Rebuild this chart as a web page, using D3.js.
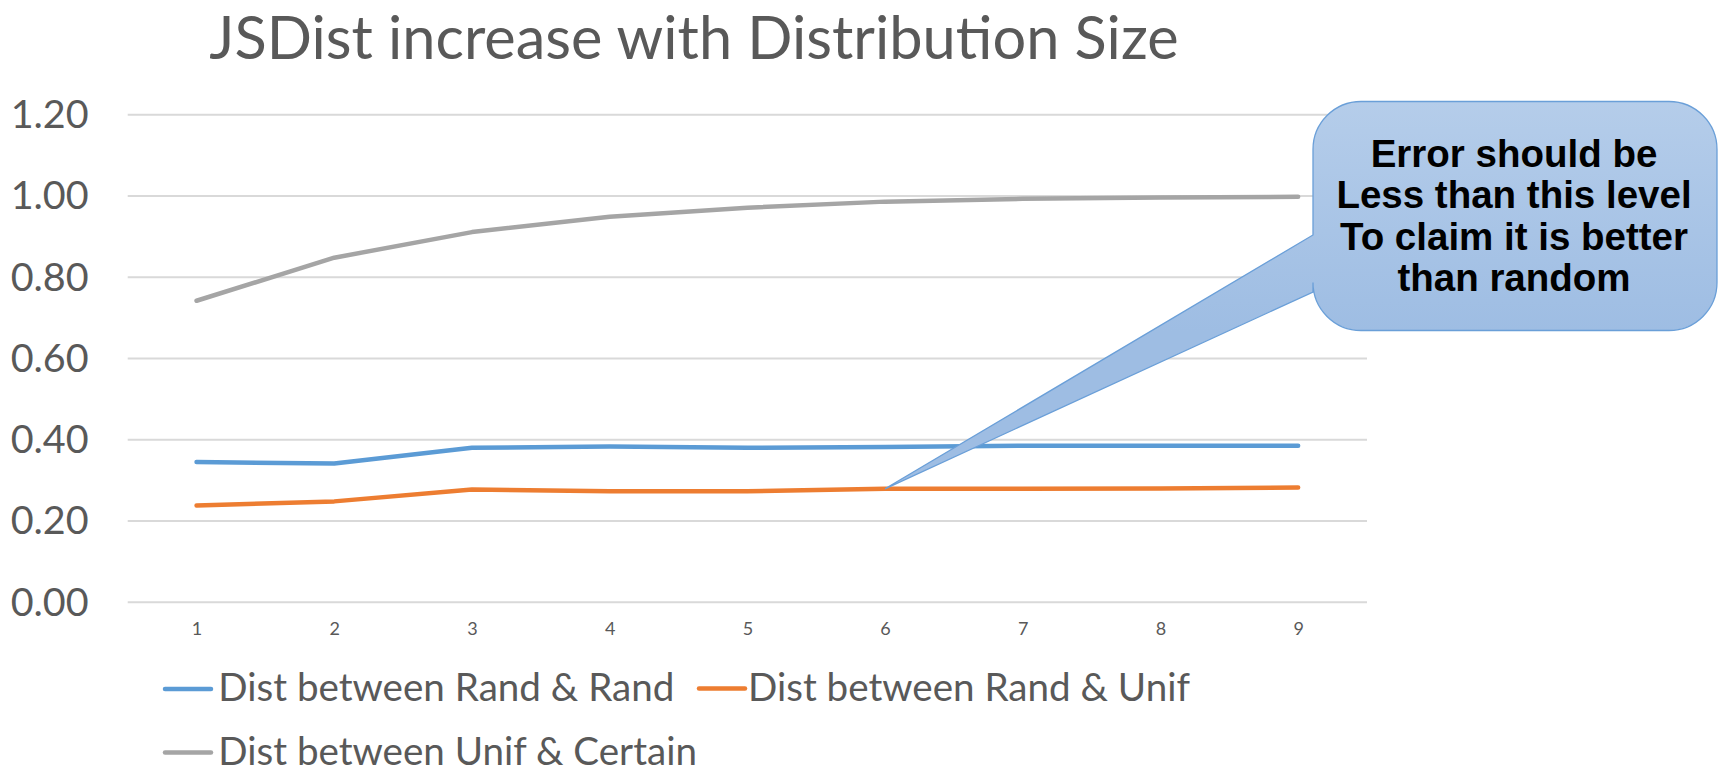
<!DOCTYPE html>
<html>
<head>
<meta charset="utf-8">
<script src="https://cdn.jsdelivr.net/npm/d3@7"></script>
<style>
  html, body { margin: 0; padding: 0; background: #fff; }
  svg { display: block; }
</style>
</head>
<body>
<svg id="chart" width="1729" height="770"></svg>
<script>
// ---- data ----
const categories = [1, 2, 3, 4, 5, 6, 7, 8, 9];
const randRand    = [0.344, 0.340, 0.379, 0.382, 0.379, 0.381, 0.384, 0.384, 0.384];
const randUnif    = [0.237, 0.247, 0.276, 0.272, 0.272, 0.278, 0.278, 0.279, 0.281];
const unifCertain = [0.741, 0.847, 0.910, 0.948, 0.970, 0.985, 0.992, 0.995, 0.997];
const yTicks = [0, 0.2, 0.4, 0.6, 0.8, 1.0, 1.2];
const seriesNames = ["Dist between Rand & Rand", "Dist between Rand & Unif", "Dist between Unif & Certain"];
const titleText = "JSDist increase with Distribution Size";
const calloutLines = ["Error should be", "Less than this level", "To claim it is better", "than random"];
const calloutIndex = 5; // points at category 6 of "Rand & Unif"

const colors = ["#5b9bd5", "#ed7d31", "#a5a5a5"];
const series = [randRand, randUnif, unifCertain];
const textColor = "#595959";
const font = "Lato, 'Open Sans', sans-serif";

const svg = d3.select("#chart");

const plot = { left: 127.7, right: 1367, top: 114.3, bottom: 601.7 };
const x = d3.scalePoint().domain(categories).range([plot.left, plot.right]).padding(0.5);
const y = d3.scaleLinear().domain([0, 1.2]).range([plot.bottom, plot.top]);

// title
svg.append("text")
  .attr("x", 694).attr("y", 58.5)
  .attr("text-anchor", "middle")
  .attr("font-family", font)
  .attr("font-size", 59.5)
  .attr("fill", textColor)
  .text(titleText);

// gridlines + y labels via axis
const yAxis = d3.axisLeft(y).tickValues(yTicks).tickFormat(d3.format(".2f"))
  .tickSize(-(plot.right - plot.left)).tickPadding(39);
const gy = svg.append("g").attr("transform", `translate(${plot.left},0)`).call(yAxis);
gy.select(".domain").remove();
gy.selectAll(".tick line").attr("stroke", "#d9d9d9").attr("stroke-width", 2);
gy.selectAll(".tick text")
  .attr("font-family", font).attr("font-size", 39.5)
  .attr("fill", textColor).attr("dy", "0.34em");

// x labels via axis
const xAxis = d3.axisBottom(x).tickSize(0).tickPadding(0);
const gx = svg.append("g").attr("transform", `translate(0,${plot.bottom})`).call(xAxis);
gx.select(".domain").remove();
gx.selectAll(".tick text")
  .attr("font-family", font).attr("font-size", 18)
  .attr("fill", textColor).attr("dy", 0).attr("y", 33.5);

// lines
const line = d3.line().x((d, i) => x(categories[i])).y(d => y(d));
series.forEach((s, k) => {
  svg.append("path")
    .datum(s)
    .attr("d", line)
    .attr("fill", "none")
    .attr("stroke", colors[k])
    .attr("stroke-width", 4.5)
    .attr("stroke-linecap", "round")
    .attr("stroke-linejoin", "round");
});

// callout
const defs = svg.append("defs");
const grad = defs.append("linearGradient").attr("id", "cg")
  .attr("gradientUnits", "userSpaceOnUse")
  .attr("x1", 0).attr("y1", 101).attr("x2", 0).attr("y2", 331);
grad.append("stop").attr("offset", "0%").attr("stop-color", "#b5cdea");
grad.append("stop").attr("offset", "100%").attr("stop-color", "#9ebde3");

const box = { x0: 1313, y0: 101.5, x1: 1717, y1: 330.5, r: 48 };
const tip = [x(categories[calloutIndex]), y(randUnif[calloutIndex])];
const baseTop = 235, baseBot = 292;
const p = d3.path();
p.moveTo(box.x0 + box.r, box.y0);
p.lineTo(box.x1 - box.r, box.y0);
p.arcTo(box.x1, box.y0, box.x1, box.y0 + box.r, box.r);
p.lineTo(box.x1, box.y1 - box.r);
p.arcTo(box.x1, box.y1, box.x1 - box.r, box.y1, box.r);
p.lineTo(box.x0 + box.r, box.y1);
p.arcTo(box.x0, box.y1, box.x0, box.y1 - box.r, box.r);
p.lineTo(box.x0, baseBot);
p.lineTo(tip[0], tip[1]);
p.lineTo(box.x0, baseTop);
p.lineTo(box.x0, box.y0 + box.r);
p.arcTo(box.x0, box.y0, box.x0 + box.r, box.y0, box.r);
p.closePath();
svg.append("path")
  .attr("d", p.toString())
  .attr("fill", "url(#cg)")
  .attr("stroke", "#6a9fd8")
  .attr("stroke-width", 1.3);

const ct = svg.append("text")
  .attr("font-family", "'Liberation Sans', Arial, sans-serif")
  .attr("font-weight", "bold")
  .attr("font-size", 38.5)
  .attr("fill", "#000")
  .attr("text-anchor", "middle");
calloutLines.forEach((t, i) => {
  ct.append("tspan").attr("x", 1514).attr("y", 167 + i * 41.3).text(t);
});

// legend
const legendItems = [
  { sx: 165, tx: 218.3, y: 689, base: 700.7 },
  { sx: 699, tx: 748, y: 688.5, base: 700.7 },
  { sx: 165, tx: 218.3, y: 752.5, base: 764.5 }
];
legendItems.forEach((it, k) => {
  svg.append("line")
    .attr("x1", it.sx).attr("x2", it.sx + 46)
    .attr("y1", it.y).attr("y2", it.y)
    .attr("stroke", colors[k]).attr("stroke-width", 4.5)
    .attr("stroke-linecap", "round");
  svg.append("text")
    .attr("x", it.tx).attr("y", it.base)
    .attr("font-family", font).attr("font-size", 38.6)
    .attr("fill", textColor)
    .text(seriesNames[k]);
});
</script>
</body>
</html>
